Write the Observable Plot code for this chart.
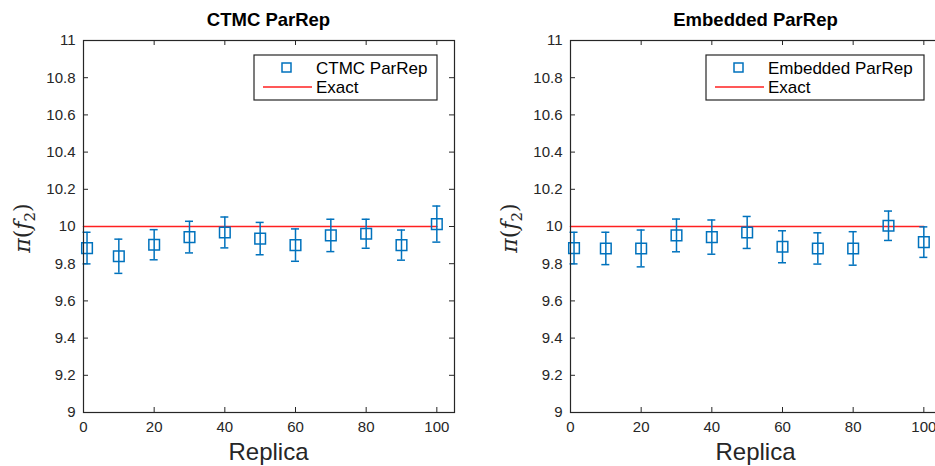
<!DOCTYPE html>
<html>
<head>
<meta charset="utf-8">
<script src="https://cdn.jsdelivr.net/npm/d3@7"></script>
<script src="https://cdn.jsdelivr.net/npm/@observablehq/plot@0.6"></script>
<style>
  html, body { margin: 0; padding: 0; background: #fff; overflow: hidden; }
  #wrap { position: relative; width: 935px; height: 466px; overflow: hidden; }
  .panel { position: absolute; top: 0; width: 485px; height: 466px; }
  .panel svg { max-width: none !important; }
</style>
</head>
<body>
<div id="wrap"></div>
<script>
// ---- data ----
const replicas = [1, 10, 20, 30, 40, 50, 60, 70, 80, 90, 100];
const ctmcMean = [9.884, 9.840, 9.902, 9.943, 9.968, 9.935, 9.900, 9.952, 9.961, 9.900, 10.013];
const ctmcErr  = [0.085, 0.092, 0.081, 0.085, 0.083, 0.087, 0.087, 0.087, 0.078, 0.081, 0.097];
const embMean  = [9.884, 9.882, 9.882, 9.952, 9.943, 9.968, 9.891, 9.882, 9.882, 10.004, 9.916];
const embErr   = [0.085, 0.087, 0.099, 0.088, 0.092, 0.086, 0.086, 0.084, 0.090, 0.079, 0.082];
const exactX = [0, 100];
const exactValue = 10;
const xTicks = [0, 20, 40, 60, 80, 100];
const yTicks = [9, 9.2, 9.4, 9.6, 9.8, 10, 10.2, 10.4, 10.6, 10.8, 11];
const xDomain = [0, 105];
const yDomain = [9, 11];

const BLUE = "#0072BD";
const RED = "#FF2020";
const INK = "#262626";

function panel({title, mean, err, legendLabel, left, marginLeft, legendWidth}) {
  const W = 485, H = 466, mT = 40, mB = 54, plotW = 371;
  const mR = W - marginLeft - plotW;
  const plotH = H - mT - mB;
  const data = replicas.map((x, i) => ({x, y: mean[i], lo: mean[i] - err[i], hi: mean[i] + err[i]}));
  const exact = exactX.map(x => ({x, y: exactValue}));
  const tx = 5 * (xDomain[1] - xDomain[0]) / plotW;  // 5px tick length in x units
  const ty = 5 * (yDomain[1] - yDomain[0]) / plotH;  // 5px tick length in y units

  const chart = Plot.plot({
    width: W, height: H,
    marginLeft, marginRight: mR, marginTop: mT, marginBottom: mB,
    style: {fontFamily: "Liberation Sans, Arial, sans-serif", color: INK, background: "transparent", overflow: "visible", maxWidth: "none"},
    x: {domain: xDomain},
    y: {domain: yDomain},
    marks: [
      Plot.axisX(xTicks, {tickSize: 0, tickPadding: 9, fontSize: 15, label: null, tickFormat: d => d}),
      Plot.axisY(yTicks, {tickSize: 0, tickPadding: 8, fontSize: 15, label: null, tickFormat: d => String(+d.toFixed(1))}),
      // inward ticks (MATLAB style box)
      Plot.ruleX(xTicks, {x: d => d, y1: yDomain[0], y2: yDomain[0] + ty, stroke: INK}),
      Plot.ruleX(xTicks, {x: d => d, y1: yDomain[1], y2: yDomain[1] - ty, stroke: INK}),
      Plot.ruleY(yTicks, {y: d => d, x1: xDomain[0], x2: xDomain[0] + tx, stroke: INK}),
      Plot.ruleY(yTicks, {y: d => d, x1: xDomain[1], x2: xDomain[1] - tx, stroke: INK}),
      Plot.line(exact, {x: "x", y: "y", stroke: RED, strokeWidth: 1.6}),
      Plot.ruleX(data, {x: "x", y1: "lo", y2: "hi", stroke: BLUE, strokeWidth: 1.5}),
      Plot.ruleY(data, {y: "hi", x1: "x", x2: "x", insetLeft: -4, insetRight: -4, stroke: BLUE, strokeWidth: 1.5}),
      Plot.ruleY(data, {y: "lo", x1: "x", x2: "x", insetLeft: -4, insetRight: -4, stroke: BLUE, strokeWidth: 1.5}),
      Plot.dot(data, {x: "x", y: "y", symbol: "square", r: 6, stroke: BLUE, strokeWidth: 1.5, fill: "none"}),
      Plot.frame({stroke: INK, strokeWidth: 1.2})
    ]
  });

  const svg = d3.select(chart);
  const cx = marginLeft + plotW / 2;
  svg.append("text").attr("x", cx).attr("y", 26).attr("text-anchor", "middle")
    .attr("font-size", 18.5).attr("font-weight", "bold").attr("fill", "#000").text(title);
  svg.append("text").attr("x", cx).attr("y", 460).attr("text-anchor", "middle")
    .attr("font-size", 24).attr("fill", INK).text("Replica");
  const yl = svg.append("text")
    .attr("transform", `translate(${marginLeft - 53},228) rotate(-90)`)
    .attr("text-anchor", "middle").attr("font-size", 22).attr("fill", INK)
    .attr("font-family", "DejaVu Serif, Liberation Serif, serif");
  yl.append("tspan").attr("font-style", "italic").text("\u03C0");
  yl.append("tspan").text("(");
  yl.append("tspan").attr("font-style", "italic").text("f");
  yl.append("tspan").attr("font-size", 15).attr("dy", 5).text("2");
  yl.append("tspan").attr("dy", -5).text(")");

  // legend
  const lx = marginLeft + plotW - 17 - legendWidth, ly = 55;
  const g = svg.append("g").attr("text-anchor", "start");
  g.append("rect").attr("x", lx).attr("y", ly).attr("width", legendWidth).attr("height", 45)
    .attr("fill", "#fff").attr("stroke", INK).attr("stroke-width", 1.2);
  g.append("rect").attr("x", lx + 28).attr("y", ly + 8).attr("width", 9).attr("height", 9)
    .attr("fill", "none").attr("stroke", BLUE).attr("stroke-width", 1.5);
  g.append("text").attr("x", lx + 62).attr("y", ly + 19).attr("font-size", 17).attr("fill", "#000").text(legendLabel);
  g.append("line").attr("x1", lx + 9).attr("x2", lx + 58).attr("y1", ly + 32).attr("y2", ly + 32)
    .attr("stroke", RED).attr("stroke-width", 1.4);
  g.append("text").attr("x", lx + 62).attr("y", ly + 38).attr("font-size", 17).attr("fill", "#000").text("Exact");

  const div = document.createElement("div");
  div.className = "panel";
  div.style.left = left + "px";
  div.appendChild(chart);
  document.getElementById("wrap").appendChild(div);
}

panel({title: "CTMC ParRep", mean: ctmcMean, err: ctmcErr, legendLabel: "CTMC ParRep", left: 0, marginLeft: 83, legendWidth: 183});
panel({title: "Embedded ParRep", mean: embMean, err: embErr, legendLabel: "Embedded ParRep", left: 485, marginLeft: 85, legendWidth: 218});
</script>
</body>
</html>
